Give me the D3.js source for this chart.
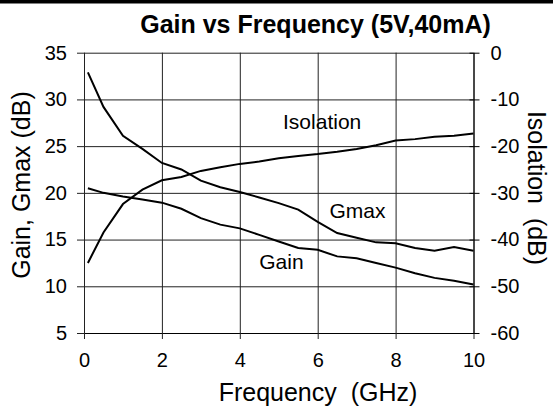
<!DOCTYPE html>
<html>
<head>
<meta charset="utf-8">
<script src="https://cdn.jsdelivr.net/npm/d3@7"></script>
<style>
  body { margin: 0; background: white; }
  text { font-family: "Liberation Sans", Arial, sans-serif; fill: black; }
  .tick-label { font-size: 20px; }
  .axis-title { font-size: 25px; }
  .series-label { font-size: 21px; }
  .chart-title { font-size: 25px; font-weight: bold; }
</style>
</head>
<body>
<svg width="553" height="408"></svg>
<script>
const svg = d3.select('svg');

const frequencies = [0.1, 0.5, 1, 1.5, 2, 2.5, 3, 3.5, 4, 4.5, 5, 5.5, 6, 6.5, 7, 7.5, 8, 8.5, 9, 9.5, 10];
const gain = [20.5, 20.0, 19.6, 19.3, 18.95, 18.3, 17.3, 16.6, 16.2, 15.5, 14.8, 14.1, 13.9, 13.2, 13.0, 12.5, 12.0, 11.4, 10.9, 10.6, 10.2];
const gmax = [32.9, 29.2, 26.1, 24.7, 23.2, 22.5, 21.3, 20.6, 20.1, 19.5, 18.9, 18.2, 16.9, 15.7, 15.2, 14.7, 14.6, 14.1, 13.8, 14.2, 13.8];
const isolation = [-45.0, -38.5, -32.4, -29.3, -27.3, -26.6, -25.3, -24.5, -23.8, -23.3, -22.6, -22.1, -21.7, -21.2, -20.6, -19.8, -18.8, -18.5, -18.0, -17.8, -17.3];

const xTicks = [0, 2, 4, 6, 8, 10];
const leftTicks = [5, 10, 15, 20, 25, 30, 35];
const rightTicks = [0, -10, -20, -30, -40, -50, -60];

const plot = { left: 84, right: 473.5, top: 52.7, bottom: 333 };

const xScale = d3.scaleLinear().domain([0, 10]).range([plot.left, plot.right]);
const yLeft = d3.scaleLinear().domain([5, 35]).range([plot.bottom, plot.top]);
const yRight = d3.scaleLinear().domain([-60, 0]).range([plot.bottom, plot.top]);

// plain hyphen for negatives, like the original
const plainFormat = d => String(d);

// black bar across the top
svg.append('rect')
    .attr('x', 0).attr('y', 0)
    .attr('width', 553).attr('height', 3.5)
    .attr('fill', 'black');

svg.append('text')
    .attr('class', 'chart-title')
    .attr('x', 315.5)
    .attr('y', 33)
    .attr('text-anchor', 'middle')
    .text('Gain vs Frequency (5V,40mA)');

// left axis with gridlines
const leftAxis = d3.axisLeft(yLeft)
    .tickValues(leftTicks)
    .tickFormat(plainFormat)
    .tickSizeInner(-(plot.right - plot.left))
    .tickSizeOuter(0)
    .tickPadding(17);
const leftGroup = svg.append('g')
    .attr('transform', `translate(${plot.left},0)`)
    .call(leftAxis);
leftGroup.selectAll('.tick line').attr('stroke', '#222').attr('x1', -7);
leftGroup.select('.domain').attr('stroke', 'black');
leftGroup.selectAll('.tick text').attr('class', 'tick-label').attr('fill', 'black')
    .attr('font-family', null).attr('font-size', null);

// bottom axis with gridlines
const bottomAxis = d3.axisBottom(xScale)
    .tickValues(xTicks)
    .tickFormat(plainFormat)
    .tickSizeInner(-(plot.bottom - plot.top))
    .tickSizeOuter(0)
    .tickPadding(20);
const bottomGroup = svg.append('g')
    .attr('transform', `translate(0,${plot.bottom})`)
    .call(bottomAxis);
bottomGroup.selectAll('.tick line').attr('stroke', '#222').attr('y1', 6);
bottomGroup.select('.domain').attr('stroke', 'black');
bottomGroup.selectAll('.tick text').attr('class', 'tick-label').attr('fill', 'black')
    .attr('font-family', null).attr('font-size', null);

// right axis, ticks cross the line
const rightAxis = d3.axisRight(yRight)
    .tickValues(rightTicks)
    .tickFormat(plainFormat)
    .tickSizeInner(6)
    .tickSizeOuter(0)
    .tickPadding(11);
const rightGroup = svg.append('g')
    .attr('transform', `translate(${plot.right},0)`)
    .call(rightAxis);
rightGroup.selectAll('.tick line').attr('stroke', 'black').attr('x1', -4);
rightGroup.select('.domain').attr('stroke', 'black');
rightGroup.selectAll('.tick text').attr('class', 'tick-label').attr('fill', 'black')
    .attr('font-family', null).attr('font-size', null);

// axis titles
svg.append('text')
    .attr('class', 'axis-title')
    .attr('text-anchor', 'middle')
    .attr('transform', 'translate(30,185) rotate(-90)')
    .text('Gain, Gmax (dB)');

svg.append('text')
    .attr('class', 'axis-title')
    .attr('text-anchor', 'middle')
    .attr('transform', 'translate(528,188) rotate(90)')
    .text('Isolation\u00a0\u00a0(dB)');

svg.append('text')
    .attr('class', 'axis-title')
    .attr('text-anchor', 'middle')
    .attr('x', 318)
    .attr('y', 401)
    .text('Frequency\u00a0\u00a0(GHz)');

// curves
const leftLine = d3.line()
    .x((d, i) => xScale(frequencies[i]))
    .y(d => yLeft(d));
const rightLine = d3.line()
    .x((d, i) => xScale(frequencies[i]))
    .y(d => yRight(d));

[gain, gmax].forEach(series => {
    svg.append('path')
        .datum(series)
        .attr('fill', 'none')
        .attr('stroke', 'black')
        .attr('stroke-width', 2)
        .attr('d', leftLine);
});
svg.append('path')
    .datum(isolation)
    .attr('fill', 'none')
    .attr('stroke', 'black')
    .attr('stroke-width', 2)
    .attr('d', rightLine);

// series labels (placed in data coordinates)
const labels = [
    { text: 'Isolation', f: 5.11, v: 26.8 },
    { text: 'Gmax', f: 6.3, v: 17.3 },
    { text: 'Gain', f: 4.5, v: 11.85 },
];
svg.selectAll('.series-label').data(labels)
    .enter()
    .append('text')
    .attr('class', 'series-label')
    .attr('x', d => xScale(d.f))
    .attr('y', d => yLeft(d.v))
    .text(d => d.text);
</script>
</body>
</html>
